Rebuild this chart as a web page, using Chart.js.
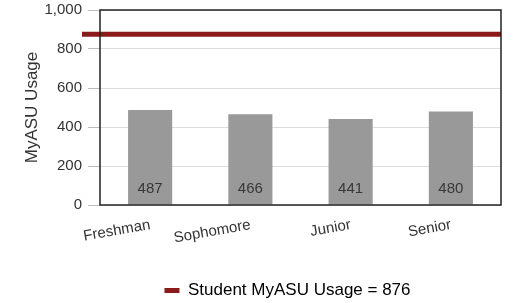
<!DOCTYPE html>
<html>
<head>
<meta charset="utf-8">
<script src="https://cdn.jsdelivr.net/npm/chart.js@4.4.1/dist/chart.umd.min.js"></script>
<style>
  html, body { margin: 0; padding: 0; background: #fff; }
  #wrap { width: 514px; height: 303px; }
</style>
</head>
<body>
<div id="wrap"><canvas id="usageChart" width="514" height="303"></canvas></div>
<script>
// chart data
const classLevels = ["Freshman", "Sophomore", "Junior", "Senior"];
const classUsage = [487, 466, 441, 480];
const studentUsage = 876;
const yTicks = [0, 200, 400, 600, 800, 1000];

const FONT = "'Liberation Sans', Arial, sans-serif";

// full-width reference line for overall student usage
const refLinePlugin = {
  id: "refLine",
  afterLayout(chart) {
    // nudge the legend a bit left of the plot centre
    if (chart.legend) {
      chart.legend.left -= 13;
      chart.legend.right -= 13;
    }
  },
  afterDatasetsDraw(chart) {
    const { ctx, chartArea, scales } = chart;
    const y = scales.y.getPixelForValue(studentUsage);
    ctx.save();
    ctx.strokeStyle = "#8b1a1a";
    ctx.lineWidth = 5;
    ctx.beginPath();
    ctx.moveTo(chartArea.left - 18, y);
    ctx.lineTo(chartArea.right, y);
    ctx.stroke();
    ctx.restore();
  }
};

// frame around plot + value labels at bar bottoms
const barLabelPlugin = {
  id: "barLabels",
  afterDatasetsDraw(chart) {
    const { ctx, chartArea, scales } = chart;
    const meta = chart.getDatasetMeta(0);
    ctx.save();
    ctx.font = "15px " + FONT;
    ctx.fillStyle = "#383838";
    ctx.textAlign = "center";
    ctx.textBaseline = "middle";
    meta.data.forEach((bar, i) => {
      ctx.fillText(String(classUsage[i]), bar.x, scales.y.getPixelForValue(0) - 16);
    });
    ctx.strokeStyle = "#222";
    ctx.lineWidth = 1.5;
    ctx.strokeRect(chartArea.left, chartArea.top, chartArea.right - chartArea.left, chartArea.bottom - chartArea.top);
    ctx.restore();
  }
};

new Chart(document.getElementById("usageChart"), {
  type: "bar",
  data: {
    labels: classLevels,
    datasets: [{
      label: "Student MyASU Usage = " + studentUsage,
      data: classUsage,
      backgroundColor: "#999999",
      barPercentage: 0.44,
      categoryPercentage: 1.0
    }]
  },
  options: {
    responsive: false,
    animation: false,
    layout: { padding: { left: 22, right: 13, top: 10, bottom: -6 } },
    plugins: {
      tooltip: { enabled: false },
      legend: {
        position: "bottom",
        fullSize: false,
        labels: {
          color: "#333",
          font: { family: FONT, size: 17 },
          padding: 3,
          generateLabels: () => [{
            text: "Student MyASU Usage = " + studentUsage,
            fillStyle: "#8b1a1a",
            strokeStyle: "#8b1a1a",
            lineWidth: 0,
            datasetIndex: 0
          }],
          boxWidth: 15,
          boxHeight: 5
        }
      }
    },
    scales: {
      x: {
        grid: { display: false, drawTicks: false },
        border: { display: false },
        ticks: {
          color: "#333",
          font: { family: FONT, size: 15 },
          minRotation: 10,
          maxRotation: 10,
          padding: 11
        },
        afterFit(scale) { scale.height = 74; }
      },
      y: {
        min: 0,
        max: 1000,
        afterBuildTicks(scale) { scale.ticks = yTicks.map(v => ({ value: v })); },
        grid: { color: "#dcdcdc", tickLength: 12, tickColor: "#bbb" },
        border: { display: false },
        ticks: {
          color: "#333",
          font: { family: FONT, size: 15 },
          padding: 6,
          callback: v => v.toLocaleString("en-US")
        },
        title: {
          display: true,
          text: "MyASU Usage",
          color: "#333",
          font: { family: FONT, size: 17 },
          padding: { top: 0, bottom: 4 }
        },
        afterFit(scale) {
          scale.width = 78;
          scale.paddingTop = 0;
          scale.paddingBottom = 0;
        }
      }
    }
  },
  plugins: [refLinePlugin, barLabelPlugin]
});
</script>
</body>
</html>
